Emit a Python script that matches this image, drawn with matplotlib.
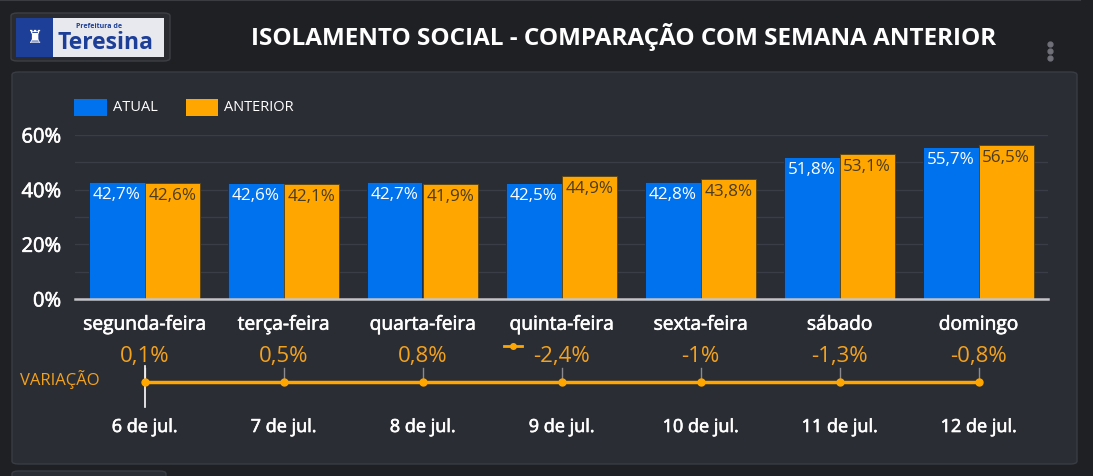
import matplotlib
matplotlib.use("Agg")
import matplotlib.pyplot as plt
from matplotlib.patches import FancyBboxPatch, Rectangle
from matplotlib.lines import Line2D
import matplotlib.transforms as mtransforms
import matplotlib.patheffects as pe

# ---- data ----
dias = ["segunda-feira", "terça-feira", "quarta-feira", "quinta-feira",
        "sexta-feira", "sábado", "domingo"]
atual = [42.7, 42.6, 42.7, 42.5, 42.8, 51.8, 55.7]
anterior = [42.6, 42.1, 41.9, 44.9, 43.8, 53.1, 56.5]
variacao = [0.1, 0.5, 0.8, -2.4, -1.0, -1.3, -0.8]
variacao_txt = ["0,1%", "0,5%", "0,8%", "-2,4%", "-1%", "-1,3%", "-0,8%"]
datas = ["6 de jul.", "7 de jul.", "8 de jul.", "9 de jul.", "10 de jul.",
         "11 de jul.", "12 de jul."]
linha_base = [0, 0, 0, 0, 0, 0, 0]
yticks = [0, 20, 40, 60]
ytick_labels = ["0%", "20%", "40%", "60%"]

# ---- style ----
W, H = 1093, 477
BG = "#1f2024"
PANEL = "#2b2d35"
GRID = "#3a3c46"
BLUE = "#0072ee"
ORANGE = "#ffa600"
ORANGE_TXT = "#f3a21e"
DARK_TXT = "#4a3d22"
FONT = ["Open Sans", "DejaVu Sans"]
plt.rcParams["font.family"] = FONT
MEDIUM = [pe.withStroke(linewidth=0.45, foreground="white")]

fig = plt.figure(figsize=(W / 100, H / 100), dpi=100)
fig.patch.set_facecolor(BG)

def fx(x):
    return x / W

def fy(y):
    return 1 - y / H

# top border line
fig.add_artist(Line2D([fx(0), fx(1080)], [fy(1), fy(1)], color="#3b3c42", lw=1.5, zorder=-5))

# main panel
fig.add_artist(FancyBboxPatch((fx(12), fy(465)), fx(1065), (465 - 73) / H,
                              boxstyle="round,pad=0,rounding_size=0.006",
                              facecolor=PANEL, edgecolor="#3a3c44", lw=1, zorder=-5))
# bottom partial panel
fig.add_artist(FancyBboxPatch((fx(12), fy(480)), fx(154), 8 / H,
                              boxstyle="round,pad=0,rounding_size=0.006",
                              facecolor=PANEL, edgecolor="#3a3c44", lw=1, zorder=-5))

# logo
fig.add_artist(FancyBboxPatch((fx(11), fy(62)), fx(159), 48 / H,
                              boxstyle="round,pad=0,rounding_size=0.006",
                              facecolor="#2a2b30", edgecolor="#3e3f45", lw=1, zorder=-5))
fig.add_artist(Rectangle((fx(16), fy(58)), fx(148), 39 / H, facecolor="#e8e9ee", edgecolor="none", zorder=-4))
fig.add_artist(Rectangle((fx(16), fy(58)), fx(37), 39 / H, facecolor="#1d3f98", edgecolor="none", zorder=-3))
fig.text(fx(35), fy(38), "♜", color="white", fontsize=13, ha="center", va="center",
         family=["DejaVu Sans"])
fig.text(fx(76), fy(26), "Prefeitura de", color="#1d3f98", fontsize=5, fontweight="bold",
         ha="left", va="center")
fig.text(fx(58), fy(43), "Teresina", color="#1d3f98", fontsize=16.5, fontweight="bold",
         ha="left", va="center")

# title
fig.text(fx(624), fy(37), "ISOLAMENTO SOCIAL - COMPARAÇÃO COM SEMANA ANTERIOR",
         color="white", fontsize=17.5, fontweight="bold", ha="center", va="center")

# kebab menu
for yy in (45, 52, 59):
    fig.add_artist(Line2D([fx(1050)], [fy(yy)], marker="o", ms=3.5, color="#6f7078", lw=0))

# legend
fig.add_artist(Rectangle((fx(74), fy(117)), fx(33), 17 / H, facecolor=BLUE, edgecolor="none"))
fig.text(fx(113), fy(108), "ATUAL", color="white", fontsize=10.5, ha="left", va="center")
fig.add_artist(Rectangle((fx(186), fy(117)), fx(32), 17 / H, facecolor=ORANGE, edgecolor="none"))
fig.text(fx(224), fy(108), "ANTERIOR", color="white", fontsize=10.5, ha="left", va="center")

# ---- bar chart ----
ax = fig.add_axes([fx(75), fy(300), fx(1048 - 75), (300 - 136) / H])
ax.set_facecolor("none")
x = list(range(len(dias)))
bw = 0.4
ax.bar([i - bw / 2 for i in x], atual, width=bw, color=BLUE, edgecolor="#1d2a40", lw=0.6, zorder=3)
ax.bar([i + bw / 2 for i in x], anterior, width=bw, color=ORANGE, edgecolor="#5a4310", lw=0.6, zorder=3)
ax.set_xlim(-0.5, len(dias) - 0.5)
ax.set_ylim(0, 60)
ax.set_yticks(yticks)
ax.set_yticklabels(ytick_labels)
ax.set_yticks([10, 30, 50], minor=True)
ax.grid(True, axis="y", which="both", color=GRID, lw=1, zorder=0)
ax.tick_params(axis="y", which="both", length=0, pad=10, labelcolor="white", labelsize=14.5)
ax.set_xticks(x)
ax.set_xticklabels(dias)
ax.tick_params(axis="x", length=0, pad=12, labelcolor="white", labelsize=13.8)
for lab in ax.get_xticklabels() + ax.get_yticklabels():
    lab.set_path_effects(MEDIUM)
for s in ("top", "right", "left"):
    ax.spines[s].set_visible(False)
ax.spines["bottom"].set_color("#c4c4c8")
ax.spines["bottom"].set_linewidth(1.8)
ax.spines["bottom"].set_zorder(4)

for i in x:
    ax.annotate(f"{atual[i]:.1f}%".replace(".", ","), (i - bw / 2, atual[i]),
                xytext=(0, -12), textcoords="offset pixels", ha="center", va="center",
                color="white", fontsize=12.3, zorder=5)
    ax.annotate(f"{anterior[i]:.1f}%".replace(".", ","), (i + bw / 2, anterior[i]),
                xytext=(0, -12), textcoords="offset pixels", ha="center", va="center",
                color=DARK_TXT, fontsize=12.3, zorder=5)

# ---- variation timeline ----
ax2 = fig.add_axes([fx(75), fy(433), fx(1048 - 75), 100 / H])
ax2.set_xlim(-0.5, len(dias) - 0.5)
ax2.set_ylim(-1, 1)
ax2.axis("off")
ax2.plot(x, linha_base, color=ORANGE, lw=2.5, marker="o", ms=5, zorder=3, solid_capstyle="butt")
trans = mtransforms.blended_transform_factory(ax2.transData, fig.transFigure)
for i in x:
    ax2.text(i, fy(357), variacao_txt[i], transform=trans, color=ORANGE_TXT,
             fontsize=16, ha="center", va="center")
    ax2.plot([i, i], [fy(369), fy(382)], transform=trans, color="#8a8b92", lw=1, zorder=2)
    ax2.text(i, fy(428), datas[i], transform=trans, color="white",
             fontsize=13, ha="center", va="center", path_effects=MEDIUM)
# hover cursor at first point
ax2.plot([0, 0], [fy(367), fy(408)], transform=trans, color="white", lw=1.2, zorder=2)

# small line legend icon
fig.add_artist(Line2D([fx(504), fx(522)], [fy(347), fy(347)], color=ORANGE, lw=2))
fig.add_artist(Line2D([fx(513)], [fy(347)], marker="o", ms=4, color=ORANGE, lw=0))

fig.text(fx(20), fy(380), "VARIAÇÃO", color=ORANGE_TXT, fontsize=12, ha="left", va="center")

fig.savefig("out.png", dpi=100, facecolor=BG)
